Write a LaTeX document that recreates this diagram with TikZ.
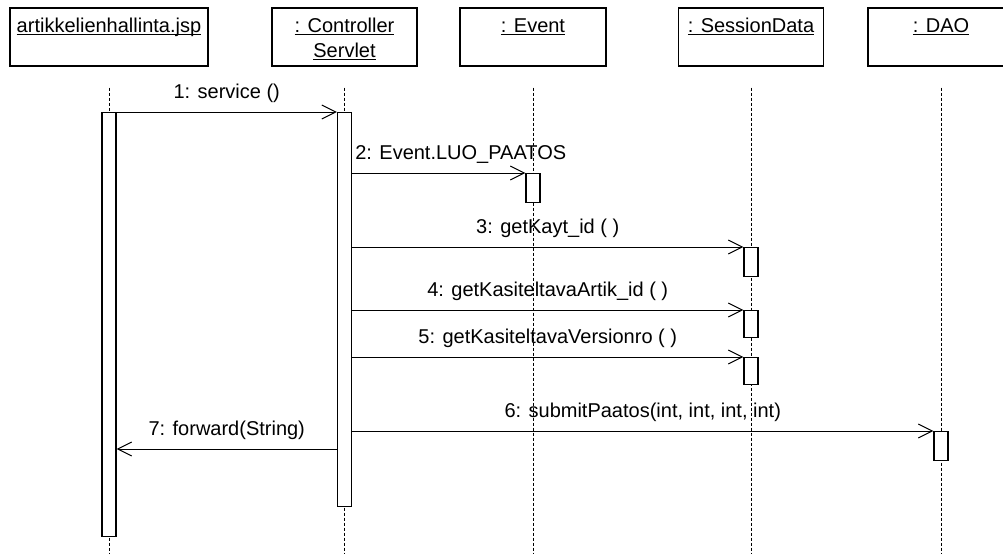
\documentclass[tikz,border=0pt]{standalone}
\usepackage{fontspec}
\setmainfont{Liberation Sans}
\usetikzlibrary{arrows.meta}
\newcommand{\objname}[1]{\underline{\smash{#1}}}

\begin{document}
\begin{tikzpicture}[>={Straight Barb[length=14pt,width=14pt]}, x=1pt, y=-1pt]
        % Styles
        \tikzstyle{obj}=[rectangle, draw, line width=1.2pt, minimum height=58pt, inner sep=0pt]
        \tikzstyle{objtext}=[font=\fontsize{20}{25}\selectfont, align=center, anchor=base, inner sep=0pt]
        \tikzstyle{bar}=[rectangle, draw, fill=white, line width=1.2pt, minimum width=14pt, anchor=north, inner sep=0pt]
        \tikzstyle{life}=[line width=1pt, dash pattern=on 3pt off 2pt]
        \tikzstyle{msg}=[->, line width=1pt]
        \tikzstyle{msglabel}=[midway, anchor=base, yshift=14pt, font=\fontsize{20}{24}\selectfont, inner sep=0pt]

        \useasboundingbox (0,0) rectangle (1003,554);
        \fill[white] (0,0) rectangle (1003,554);
        \clip (0,0) rectangle (1003,554);
        \coordinate (bottom) at (0,554);

        % Objects
        \node[obj, minimum width=198pt] (jsp)   at (109,37)   {};
        \node[obj, minimum width=145pt] (ctrl)  at (344.5,37) {};
        \node[obj, minimum width=146pt] (event) at (533,37)   {};
        \node[obj, minimum width=145pt] (sdata) at (751,37)   {};
        \node[obj, minimum width=146pt] (dao)   at (941,37)   {};

        \node[objtext] (jsptxt)   at ([yshift=-25pt]jsp.north)   {\objname{artikkelienhallinta.jsp}};
        \node[objtext] (ctrltxt)  at ([yshift=-50pt]ctrl.north)  {\objname{: Controller}\\\objname{Servlet}};
        \node[objtext] (eventtxt) at ([yshift=-25pt]event.north) {\objname{: Event}};
        \node[objtext] (sdatatxt) at ([yshift=-25pt]sdata.north) {\objname{: SessionData}};
        \node[objtext] (daotxt)   at ([yshift=-25pt]dao.north)   {\objname{: DAO}};

        % Lifelines
        \foreach \n in {jsp,ctrl,event,sdata,dao}
            \draw[life] ([yshift=-21pt]\n.south) -- (\n.south |- bottom);

        % Activations
        \node[bar, minimum height=424pt] (jspbar)  at (109,112)   {};
        \node[bar, minimum height=394pt] (ctrlbar) at (344.5,112) {};
        \node[bar, minimum height=29pt]  (eventbar) at (533,173)  {};
        \node[bar, minimum height=29pt]  (sdbar1)  at (751,247)   {};
        \node[bar, minimum height=27pt]  (sdbar2)  at (751,310)   {};
        \node[bar, minimum height=27pt]  (sdbar3)  at (751,357)   {};
        \node[bar, minimum height=29pt]  (daobar)  at (941,431)   {};

        % Messages
        \draw[msg] (jspbar.north east) -- node[msglabel]{1: service ()} (ctrlbar.north west);
        \draw[msg] (ctrlbar.east |- eventbar.north) -- node[msglabel, xshift=22pt]{2: Event.LUO\_PAATOS} (eventbar.north west);
        \draw[msg] (ctrlbar.east |- sdbar1.north) -- node[msglabel]{3: getKayt\_id ( )} (sdbar1.north west);
        \draw[msg] (ctrlbar.east |- sdbar2.north) -- node[msglabel]{4: getKasiteltavaArtik\_id ( )} (sdbar2.north west);
        \draw[msg] (ctrlbar.east |- sdbar3.north) -- node[msglabel]{5: getKasiteltavaVersionro ( )} (sdbar3.north west);
        \draw[msg] (ctrlbar.east |- daobar.north) -- node[msglabel]{6: submitPaatos(int, int, int, int)} (daobar.north west);
        \coordinate (fwd) at (0,449);
        \draw[msg] (ctrlbar.west |- fwd) -- node[msglabel]{7: forward(String)} (jspbar.east |- fwd);
    \end{tikzpicture}
\end{document}
